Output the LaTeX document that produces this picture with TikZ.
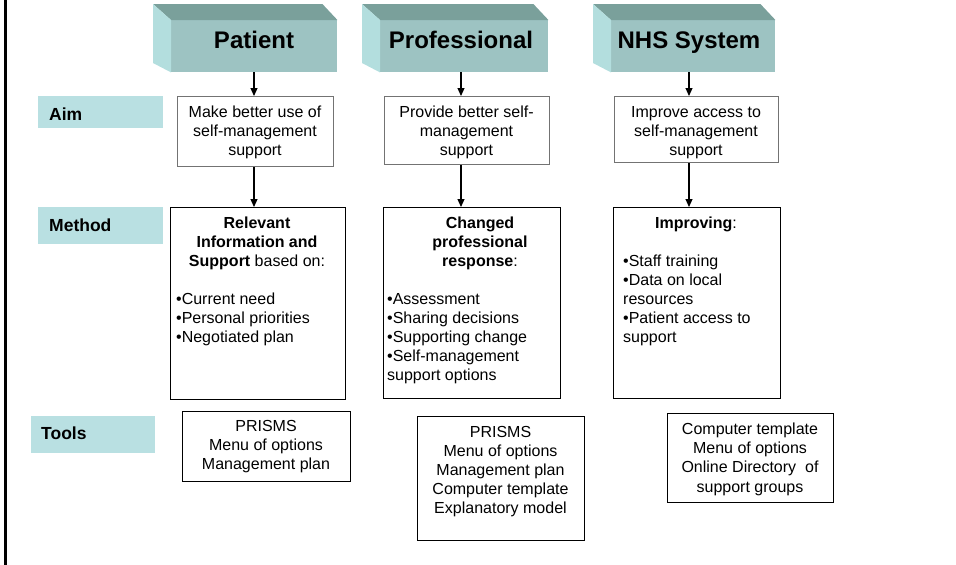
\documentclass[tikz,border=0pt]{standalone}
\usepackage{fontspec}
\setmainfont{Liberation Sans}
\usetikzlibrary{arrows.meta}
\definecolor{hdrfront}{HTML}{9DC3C2}
\definecolor{hdrtop}{HTML}{7AA09B}
\definecolor{hdrside}{HTML}{B3DEDE}
\definecolor{labelfill}{HTML}{B9E0E2}
\tikzset{
  hdrface/.style={fill=hdrfront, draw=none, inner sep=0, anchor=north west},
  hdrtext/.style={font=\fontsize{24}{28}\selectfont\bfseries, inner sep=0, anchor=base},
  rowlabel/.style={fill=labelfill, draw=none, inner sep=0, anchor=north west},
  labeltext/.style={font=\fontsize{17.5}{20}\selectfont\bfseries, inner sep=0, anchor=base west},
  frame/.style={draw=black, line width=1pt, fill=white, inner sep=0, anchor=north west},
  aimframe/.style={frame, draw=black!55},
  body/.style={font=\fontsize{16}{19.2}\selectfont, inner sep=0},
  % multi-line texts are placed by the baseline of their last line
  ctext/.style={body, align=center, anchor=base},
  ltext/.style={body, align=left, anchor=base west},
  conn/.style={-{Triangle[length=8pt,width=7pt]}, line width=1.1pt},
}
\begin{document}
\begin{tikzpicture}[x=1pt,y=-1pt]
\useasboundingbox (0,0) rectangle (956,565);

% left rule
\draw[line width=3pt] (5.5,0) -- (5.5,565);

% header blocks with top and side faces
\node[hdrface, minimum width=166pt, minimum height=52pt] (hP) at (171,20) {};
\node[hdrface, minimum width=168pt, minimum height=52pt] (hR) at (380,20) {};
\node[hdrface, minimum width=164pt, minimum height=52pt] (hN) at (611,20) {};
\foreach \h in {hP,hR,hN}{
  \fill[hdrtop] (\h.north west) -- ++(-18,-16) -- ([shift={(-15,-16)}]\h.north east) -- (\h.north east) -- cycle;
  \fill[hdrside] (\h.north west) -- ++(-18,-16) -- ++(0,59) -- (\h.south west) -- cycle;
}
\node[hdrtext] (hPt) at (254,48) {Patient};
\node[hdrtext] (hRt) at (461,48) {Professional};
\node[hdrtext] (hNt) at (689,48) {NHS System};

% row labels
\node[rowlabel, minimum width=125pt, minimum height=32pt] (lAim) at (38,96) {};
\node[rowlabel, minimum width=125pt, minimum height=37pt] (lMet) at (38,207) {};
\node[rowlabel, minimum width=124pt, minimum height=37pt] (lTool) at (31,416) {};
\node[labeltext] (lAimt) at (49,120) {Aim};
\node[labeltext] (lMett) at (49,231) {Method};
\node[labeltext] (lToolt) at (41,439) {Tools};

% aim boxes
\node[aimframe, minimum width=156pt, minimum height=70pt] (aP) at (177,96) {};
\node[aimframe, minimum width=165pt, minimum height=68pt] (aR) at (384,96) {};
\node[aimframe, minimum width=164pt, minimum height=66pt] (aN) at (614,96) {};
\node[ctext] (aPt) at (255,155.4) {Make better use of\\self-management\\support};
\node[ctext] (aRt) at (466.5,155.4) {Provide better self-\\management\\support};
\node[ctext] (aNt) at (696,155.4) {Improve access to\\self-management\\support};

% method boxes
\node[frame, minimum width=175pt, minimum height=192pt] (mP) at (170,207) {};
\node[frame, minimum width=177pt, minimum height=191pt] (mR) at (383,207) {};
\node[frame, minimum width=167pt, minimum height=191pt] (mN) at (613,207) {};
\node[ctext] (mPh) at (257,266.4) {\textbf{Relevant}\\\textbf{Information and}\\\textbf{Support} based on:};
\node[ltext] (mPl) at (176,342.4) {•Current need\\•Personal priorities\\•Negotiated plan};
\node[ctext] (mRh) at (480,266.4) {\textbf{Changed}\\\textbf{professional}\\\textbf{response}:};
\node[ltext] (mRl) at (387,380.8) {•Assessment\\•Sharing decisions\\•Supporting change\\•Self-management\\support options};
\node[ctext] (mNh) at (696,228) {\textbf{Improving}:};
\node[ltext] (mNl) at (623,342.8) {•Staff training\\•Data on local\\resources\\•Patient access to\\support};

% tool boxes
\node[frame, minimum width=168pt, minimum height=70pt] (tP) at (182,411) {};
\node[frame, minimum width=167pt, minimum height=124pt] (tR) at (417,416) {};
\node[frame, minimum width=166pt, minimum height=89pt] (tN) at (667,413) {};
\node[ctext] (tPt) at (266,469.9) {PRISMS\\Menu of options\\Management plan};
\node[ctext] (tRt) at (500.5,513.8) {PRISMS\\Menu of options\\Management plan\\Computer template\\Explanatory model};
\node[ctext] (tNt) at (750,492.1) {Computer template\\Menu of options\\Online Directory\ \ of\\support groups};

% connectors
\coordinate (cP) at (254,0);
\coordinate (cR) at (461,0);
\coordinate (cN) at (689,0);
\draw[conn] (hP.south -| cP) -- (aP.north -| cP);
\draw[conn] (hR.south -| cR) -- (aR.north -| cR);
\draw[conn] (hN.south -| cN) -- (aN.north -| cN);
\draw[conn] (aP.south -| cP) -- (mP.north -| cP);
\draw[conn] (aR.south -| cR) -- (mR.north -| cR);
\draw[conn] (aN.south -| cN) -- (mN.north -| cN);
\end{tikzpicture}
\end{document}
